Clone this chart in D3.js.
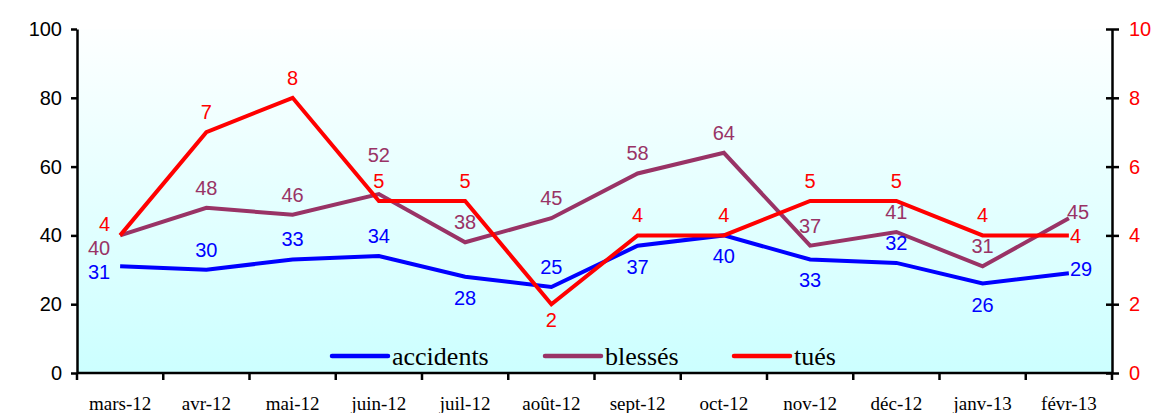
<!DOCTYPE html>
<html>
<head>
<meta charset="utf-8">
<script src="https://cdn.jsdelivr.net/npm/d3@7"></script>
<style>
  html, body { margin: 0; padding: 0; background: #fff; }
  svg { display: block; }
  .tick-l text { font-family: "Liberation Sans", Arial, sans-serif; font-size: 20px; fill: #000; }
  .tick-r text { font-family: "Liberation Sans", Arial, sans-serif; font-size: 20px; fill: #ff0000; }
  .cat text { font-family: "Liberation Serif", "DejaVu Serif", serif; font-size: 19px; fill: #000; }
  .lbl { font-family: "Liberation Sans", Arial, sans-serif; font-size: 20px; }
</style>
</head>
<body>
<svg id="chart" width="1152" height="413"></svg>
<script>
(function () {
  "use strict";

  const months    = ["mars-12", "avr-12", "mai-12", "juin-12", "juil-12", "août-12",
                     "sept-12", "oct-12", "nov-12", "déc-12", "janv-13", "févr-13"];
  const accidents = [31, 30, 33, 34, 28, 25, 37, 40, 33, 32, 26, 29];
  const blesses   = [40, 48, 46, 52, 38, 45, 58, 64, 37, 41, 31, 45];
  const tues      = [4, 7, 8, 5, 5, 2, 4, 4, 5, 5, 4, 4];
  const leftTicks  = [0, 20, 40, 60, 80, 100];
  const rightTicks = [0, 2, 4, 6, 8, 10];

  // where each value label sits relative to its point
  const accPos  = ["left", "above", "above", "above", "below", "above", "below", "below", "below", "above", "below", "right"];
  const blePos  = ["leftbelow", "above", "above", "above2", "above", "above", "above", "above", "above", "above", "above", "rightup"];
  const tuePos  = ["leftabove", "above", "above", "above", "above", "belowred", "above", "above", "above", "above", "above", "rightdown"];

  const margin = { top: 29, left: 77 };
  const W = 1112 - margin.left;
  const H = 373 - margin.top;

  const svg = d3.select("#chart");

  const grad = svg.append("defs").append("linearGradient").attr("id", "bg")
    .attr("x1", 0).attr("y1", 0).attr("x2", 0).attr("y2", 1);
  grad.append("stop").attr("offset", "0%").attr("stop-color", "#fdffff");
  grad.append("stop").attr("offset", "100%").attr("stop-color", "#ccffff");

  const g = svg.append("g").attr("transform", `translate(${margin.left},${margin.top})`);

  const x = d3.scaleBand().domain(months).range([0, W]);
  const yL = d3.scaleLinear().domain([0, 100]).range([H, 0]);
  const yR = d3.scaleLinear().domain([0, 10]).range([H, 0]);
  const cx = m => x(m) + x.bandwidth() / 2;

  g.append("rect").attr("width", W).attr("height", H).attr("fill", "url(#bg)");

  // axes
  const axL = g.append("g").attr("class", "tick-l")
    .call(d3.axisLeft(yL).tickValues(leftTicks).tickSize(6).tickPadding(9).tickSizeOuter(0));
  axL.attr("font-family", null).attr("font-size", null);
  axL.select(".domain").attr("stroke", "#000").attr("stroke-width", 2.5);
  axL.selectAll(".tick line").attr("stroke", "#000").attr("stroke-width", 2.5);

  const axR = g.append("g").attr("class", "tick-r").attr("transform", `translate(${W},0)`)
    .call(d3.axisRight(yR).tickValues(rightTicks).tickSize(7).tickPadding(10).tickSizeOuter(0));
  axR.attr("font-family", null).attr("font-size", null);
  axR.select(".domain").attr("stroke", "#000").attr("stroke-width", 2.5);
  axR.selectAll(".tick line").attr("x1", -6).attr("stroke", "#000").attr("stroke-width", 2.5);
  axR.selectAll(".tick text").attr("fill", "#ff0000");

  // x axis: ticks at category boundaries
  const axB = g.append("g").attr("transform", `translate(0,${H})`);
  axB.append("line").attr("x1", 0).attr("x2", W).attr("stroke", "#000").attr("stroke-width", 2.5);
  const bounds = months.map(m => x(m)).concat([W]);
  axB.selectAll(".bt").data(bounds).join("line")
    .attr("x1", d => d).attr("x2", d => d).attr("y1", 0).attr("y2", 7)
    .attr("stroke", "#000").attr("stroke-width", 2.5);
  axB.append("g").attr("class", "cat").selectAll("text").data(months).join("text")
    .attr("x", d => cx(d)).attr("y", 37).attr("text-anchor", "middle").text(d => d);

  // lines
  const series = [
    { name: "accidents", values: accidents, y: yL, color: "#0000ff", pos: accPos },
    { name: "blessés",   values: blesses,   y: yL, color: "#993366", pos: blePos },
    { name: "tués",      values: tues,      y: yR, color: "#ff0000", pos: tuePos }
  ];

  series.forEach(s => {
    const line = d3.line().x((d, i) => cx(months[i])).y(d => s.y(d));
    g.append("path").datum(s.values)
      .attr("d", line).attr("fill", "none")
      .attr("stroke", s.color).attr("stroke-width", 4)
      .attr("stroke-linejoin", "miter").attr("stroke-linecap", "butt");
  });

  const offsets = {
    above:     [0, -13, "middle"],
    above2:    [0, -32, "middle"],
    below:     [0, 28, "middle"],
    belowred:  [0, 23, "middle"],
    left:      [-10, 13, "end"],
    leftabove: [-10, -4, "end"],
    leftbelow: [-10, 20, "end"],
    right:     [1, 3, "start"],
    rightup:   [-2, 1, "start"],
    rightdown: [1, 8, "start"]
  };

  series.forEach(s => {
    g.append("g").selectAll("text").data(s.values).join("text")
      .attr("class", "lbl")
      .attr("x", (d, i) => cx(months[i]) + offsets[s.pos[i]][0])
      .attr("y", (d, i) => s.y(d) + offsets[s.pos[i]][1])
      .attr("text-anchor", (d, i) => offsets[s.pos[i]][2])
      .attr("fill", s.color)
      .text(d => d);
  });

  // legend
  const legX = [332, 545, 734];
  const leg = svg.append("g");
  series.forEach((s, i) => {
    leg.append("line").attr("x1", legX[i]).attr("x2", legX[i] + 56)
      .attr("y1", 356).attr("y2", 356)
      .attr("stroke", s.color).attr("stroke-width", 4.5).attr("stroke-linecap", "round");
    leg.append("text")
      .attr("x", legX[i] + 60).attr("y", 365)
      .style("font-family", "'Liberation Serif', 'DejaVu Serif', serif")
      .style("font-size", "26px").style("fill", "#000")
      .text(s.name);
  });
})();
</script>
</body>
</html>
